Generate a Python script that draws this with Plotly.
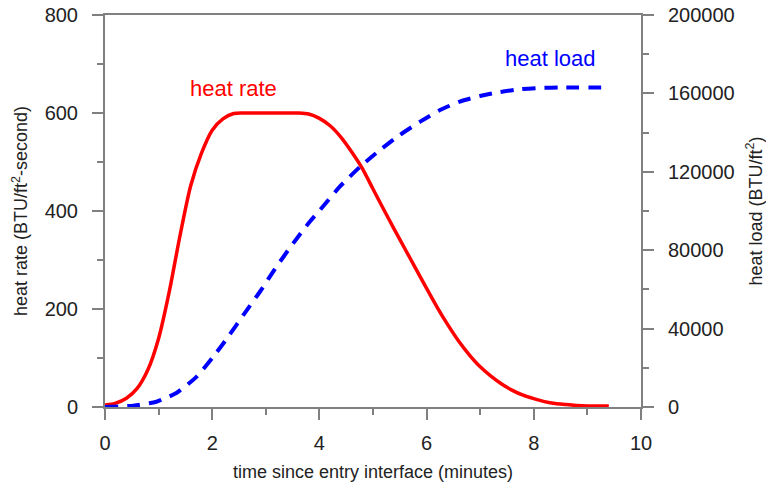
import plotly.graph_objects as go

# time (minutes) and heat rate (BTU/ft^2-second)
rate_t = [0.0, 0.2, 0.4, 0.6, 0.8, 1.0, 1.2, 1.4, 1.6, 1.8, 2.0, 2.2, 2.4, 2.6, 2.8, 3.0,
          3.2, 3.4, 3.6, 3.8, 4.0, 4.2, 4.4, 4.6, 4.8, 5.0, 5.2, 5.4, 5.6, 5.8, 6.0,
          6.2, 6.4, 6.6, 6.8, 7.0, 7.2, 7.4, 7.6, 7.8, 8.0, 8.2, 8.4, 8.6, 8.8, 9.0, 9.2, 9.4]
rate_v = [4, 8, 18, 38, 76, 140, 236, 350, 452, 518, 565, 588, 599, 600, 600, 600,
          600, 600, 600, 598, 589, 574, 551, 521, 487, 445, 403, 362, 322, 282, 242,
          203, 167, 134, 106, 82, 63, 47, 34, 24, 17, 11, 7, 5, 3, 2, 2, 2]

# time (minutes) and heat load (BTU/ft^2)
load_t = [0.0, 0.53, 0.96, 1.34, 1.71, 2.02, 2.30, 2.58, 2.89, 3.20, 3.51, 3.82, 4.01, 4.38, 4.76,
          5.13, 5.50, 5.88, 6.25, 6.62, 7.00, 7.37, 7.74, 8.12, 8.49, 9.33]
load_v = [0, 700, 2700, 7300, 15500, 25700, 35900, 46900, 58800, 71600, 83500, 94500, 100500, 112400, 122600,
          131100, 138800, 145600, 151500, 155800, 158700, 160700, 162100, 162800, 163000, 163000]

gray = "#808080"
font = "Liberation Sans, Arial, sans-serif"

fig = go.Figure()
fig.add_trace(go.Scatter(x=rate_t, y=rate_v, mode="lines",
                         line=dict(color="#ff0000", width=3.5, shape="spline", smoothing=0.8),
                         showlegend=False, yaxis="y"))
fig.add_trace(go.Scatter(x=load_t, y=load_v, mode="lines",
                         line=dict(color="#0000ff", width=4, dash="13px,9px", shape="spline", smoothing=0.6),
                         showlegend=False, yaxis="y2"))

axis_common = dict(showgrid=False, zeroline=False, showline=True, linecolor=gray, linewidth=2,
                   ticks="outside", ticklen=11, tickwidth=1.5, tickcolor=gray, automargin=False,
                   tickfont=dict(size=20, color="#222222", family=font))

fig.update_layout(
    width=766, height=492,
    margin=dict(l=105, r=125, t=15, b=85),
    plot_bgcolor="white", paper_bgcolor="white",
    font=dict(family=font, color="#222222"),
    xaxis=dict(range=[0, 10], dtick=2, mirror=True,
               minor=dict(ticks="outside", ticklen=6, dtick=1, tickcolor=gray, tickwidth=1.5),
               title=dict(text="time since entry interface (minutes)", font=dict(size=18), standoff=12),
               ticklabelstandoff=6,
               **axis_common),
    yaxis=dict(range=[0, 800], dtick=200, tickformat="d",
               minor=dict(ticks="outside", ticklen=6, dtick=100, tickcolor=gray, tickwidth=1.5),
               title=dict(text="heat rate (BTU/ft<sup>2</sup>-second)", font=dict(size=18), standoff=12),
               ticklabelstandoff=10,
               **axis_common),
    yaxis2=dict(range=[0, 200000], dtick=40000, overlaying="y", side="right", tickformat="d",
                minor=dict(ticks="outside", ticklen=6, dtick=20000, tickcolor=gray, tickwidth=1.5),
                title=dict(text="heat load (BTU/ft<sup>2</sup>)", font=dict(size=18), standoff=19),
                ticklabelstandoff=10,
                **axis_common),
    annotations=[
        dict(x=2.4, y=650, xref="x", yref="y", text="heat rate", showarrow=False,
             font=dict(size=22, color="#ff0000", family=font)),
        dict(x=8.32, y=712, xref="x", yref="y", text="heat load", showarrow=False,
             font=dict(size=22, color="#0000ff", family=font)),
    ],
)

fig.write_html("out.html")
